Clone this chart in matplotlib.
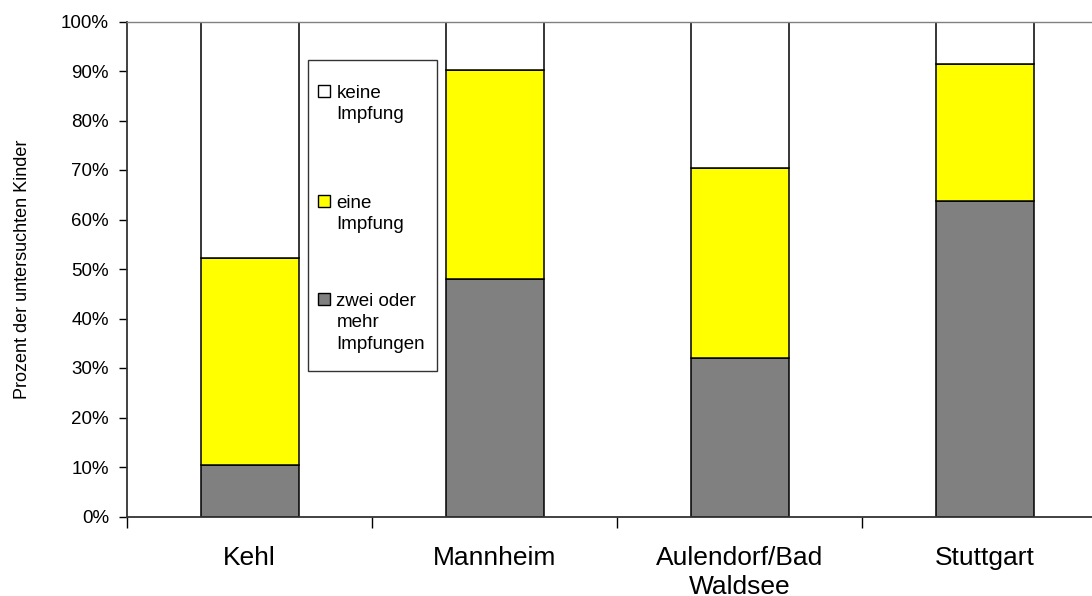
import matplotlib

matplotlib.use("Agg")
import matplotlib.pyplot as plt
import numpy as np
from matplotlib.patches import Rectangle


# =========================================================
# Data
# =========================================================
CATEGORIES = ["Kehl", "Mannheim", "Aulendorf/Bad\nWaldsee", "Stuttgart"]
ZWEI_ODER_MEHR = [10.5, 47.9, 32.1, 63.8]
EINE = [41.7, 42.4, 38.4, 27.6]
KEINE = [47.8, 9.7, 29.5, 8.6]

SERIES_LABELS = ["keine\nImpfung", "eine\nImpfung", "zwei oder\nmehr\nImpfungen"]
SERIES_COLORS = ["#FFFFFF", "#FFFF00", "#808080"]

Y_TICKS = np.arange(0, 101, 10)
Y_LABEL = "Prozent der untersuchten Kinder"

# =========================================================
# Layout
# =========================================================
FIG_W, FIG_H, DPI = 1092, 596, 100
FONT = "Liberation Sans"


def px(x, y):
    # pixel coords (origin top-left) -> figure fraction
    return x / FIG_W, 1 - y / FIG_H


def main() -> None:
    plt.rcParams["font.family"] = [FONT, "DejaVu Sans"]

    fig = plt.figure(figsize=(FIG_W / DPI, FIG_H / DPI), dpi=DPI)
    ax = fig.add_axes([127 / FIG_W, (FIG_H - 516.5) / FIG_H, 980 / FIG_W, 495 / FIG_H])

    x = np.arange(len(CATEGORIES))
    w = 0.4
    bottom = np.zeros(len(CATEGORIES))
    for vals, color in zip([ZWEI_ODER_MEHR, EINE, KEINE], SERIES_COLORS[::-1]):
        ax.bar(x, vals, width=w, bottom=bottom, color=color, edgecolor="black", linewidth=1.1, zorder=2)
        bottom += np.asarray(vals)

    ax.set_xlim(-0.5, len(CATEGORIES) - 0.5)
    ax.set_ylim(0, 100)

    ax.set_yticks(Y_TICKS)
    ax.set_yticklabels([f"{v}%" for v in Y_TICKS], fontsize=13.5)
    ax.tick_params(axis="y", length=6, width=1, pad=7, color="black")

    # boundary ticks without labels, category labels on minor ticks
    ax.set_xticks(np.arange(-0.5, len(CATEGORIES), 1.0))
    ax.set_xticklabels([])
    ax.tick_params(axis="x", which="major", length=8, width=1, direction="out", color="black")
    ax.set_xticks(x, minor=True)
    ax.set_xticklabels(CATEGORIES, minor=True, fontsize=19, linespacing=1.22)
    ax.tick_params(axis="x", which="minor", length=0, pad=21.5)

    ax.set_ylabel(Y_LABEL, fontsize=13)
    ax.yaxis.set_label_coords((31 - 127) / 980, 0.5)

    for side in ["left", "bottom"]:
        ax.spines[side].set_color("#333333")
        ax.spines[side].set_linewidth(1.3)
    for side in ["top", "right"]:
        ax.spines[side].set_color("#808080")
        ax.spines[side].set_linewidth(1.0)

    # legend drawn by hand: square sits next to the first line of each label
    x0, y0 = px(308, 371)
    x1, y1 = px(437, 60)
    fig.patches.append(
        Rectangle((x0, y0), x1 - x0, y1 - y0, transform=fig.transFigure,
                  facecolor="white", edgecolor="#333333", linewidth=1.0, zorder=5)
    )
    entry_tops = [85, 195, 293]
    sq = 12
    for label, color, top in zip(SERIES_LABELS, SERIES_COLORS, entry_tops):
        sx, sy = px(318, top + sq)
        fig.patches.append(
            Rectangle((sx, sy), sq / FIG_W, sq / FIG_H, transform=fig.transFigure,
                      facecolor=color, edgecolor="black", linewidth=1.0, zorder=6)
        )
        tx, ty = px(336.5, top)
        fig.text(tx, ty, label, fontsize=13.5, va="top", ha="left", linespacing=1.33, zorder=7)

    fig.savefig("out.png", dpi=DPI)
    plt.close(fig)


if __name__ == "__main__":
    main()
